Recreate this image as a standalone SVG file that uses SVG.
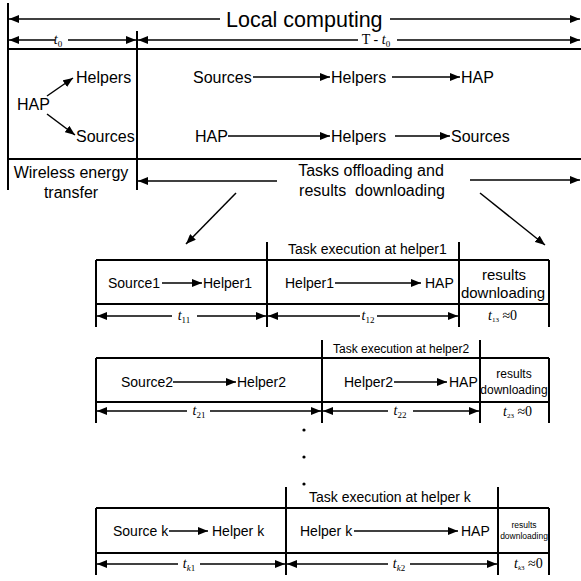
<svg xmlns="http://www.w3.org/2000/svg" width="581" height="581" viewBox="0 0 581 581">
<defs>
<marker id="ah" viewBox="0 0 10 8" refX="10" refY="4" markerWidth="10" markerHeight="8" markerUnits="userSpaceOnUse" orient="auto"><path d="M0,0 L10,4 L0,8 z" fill="#000"/></marker>
<style>
.ln{stroke:#000;stroke-width:2;fill:none}
.ar{stroke:#000;stroke-width:1.5;fill:none;marker-end:url(#ah)}
.t{font-family:"Liberation Sans",Arial,sans-serif;fill:#000}
.m{font-family:"Liberation Serif","Times New Roman",serif;fill:#000;font-size:14px}
.i{font-style:italic}
.c{text-anchor:middle}
</style>
</defs>
<rect width="581" height="581" fill="#fff"/>
<g id="frame">
<line class="ln" x1="8" y1="3" x2="8" y2="190"/>
<line class="ln" x1="137" y1="31" x2="137" y2="190"/>
<line class="ln" x1="8" y1="49" x2="581" y2="49"/>
<line class="ln" x1="8" y1="159" x2="581" y2="159"/>
</g>
<g id="connectors">
<line class="ar" x1="220" y1="19" x2="9" y2="19"/>
<line class="ar" x1="390" y1="19" x2="580" y2="19"/>
<line class="ar" x1="55" y1="40" x2="9" y2="40"/>
<line class="ar" x1="68" y1="40" x2="136" y2="40"/>
<line class="ar" x1="358" y1="40" x2="138" y2="40"/>
<line class="ar" x1="397" y1="40" x2="580" y2="40"/>
<line class="ar" x1="47" y1="96" x2="73" y2="78"/>
<line class="ar" x1="47" y1="114" x2="75" y2="135"/>
<line class="ar" x1="253" y1="77" x2="330" y2="77"/>
<line class="ar" x1="392" y1="77" x2="460" y2="77"/>
<line class="ar" x1="228" y1="136" x2="330" y2="136"/>
<line class="ar" x1="395" y1="136" x2="450" y2="136"/>
<line class="ar" x1="277" y1="181" x2="138" y2="181"/>
<line class="ar" x1="470" y1="180" x2="580" y2="180"/>
<line class="ar" x1="236" y1="193" x2="186" y2="244"/>
<line class="ar" x1="480" y1="193" x2="545" y2="245"/>
<line class="ar" x1="162" y1="283" x2="202" y2="283"/>
<line class="ar" x1="335" y1="283" x2="421" y2="283"/>
<line class="ar" x1="172" y1="316" x2="97" y2="316"/>
<line class="ar" x1="197" y1="316" x2="266" y2="316"/>
<line class="ar" x1="360" y1="316" x2="268" y2="316"/>
<line class="ar" x1="377" y1="316" x2="458" y2="316"/>
<line class="ar" x1="173" y1="382" x2="236" y2="382"/>
<line class="ar" x1="394" y1="382" x2="447" y2="382"/>
<line class="ar" x1="187" y1="411" x2="97" y2="411"/>
<line class="ar" x1="210" y1="411" x2="321" y2="411"/>
<line class="ar" x1="388" y1="411" x2="323" y2="411"/>
<line class="ar" x1="413" y1="411" x2="479" y2="411"/>
<line class="ar" x1="169" y1="531" x2="208" y2="531"/>
<line class="ar" x1="354" y1="531" x2="458" y2="531"/>
<line class="ar" x1="178" y1="564" x2="97" y2="564"/>
<line class="ar" x1="200" y1="564" x2="285" y2="564"/>
<line class="ar" x1="388" y1="564" x2="287" y2="564"/>
<line class="ar" x1="410" y1="564" x2="497" y2="564"/>
</g>
<g id="top-labels">
<text class="t" x="226" y="27" font-size="21.5">Local computing</text>
<text class="m i c" x="58" y="44">t<tspan font-size="9" dy="3" font-style="normal">0</tspan></text>
<text class="m c" x="376" y="44">T - <tspan font-style="italic">t</tspan><tspan font-size="9" dy="3">0</tspan></text>
</g>
<g id="node-hap-left"><text class="t" x="17" y="110" font-size="16">HAP</text></g>
<g id="node-helpers-left"><text class="t" x="76" y="83" font-size="16">Helpers</text></g>
<g id="node-sources-left"><text class="t" x="76" y="142" font-size="16">Sources</text></g>
<g id="row1">
<text class="t" x="193" y="83" font-size="16">Sources</text>
<text class="t" x="331" y="83" font-size="16">Helpers</text>
<text class="t" x="461" y="83" font-size="16">HAP</text>
</g>
<g id="row2">
<text class="t" x="195" y="142" font-size="16">HAP</text>
<text class="t" x="331" y="142" font-size="16">Helpers</text>
<text class="t" x="451" y="142" font-size="16">Sources</text>
</g>
<g id="phase-labels">
<text class="t c" x="71" y="178" font-size="16">Wireless energy</text>
<text class="t c" x="71" y="198" font-size="16">transfer</text>
<text class="t c" x="371" y="176" font-size="16">Tasks offloading and</text>
<text class="t c" x="372" y="196" font-size="16" xml:space="preserve">results  downloading</text>
</g>
<g id="box1">
<path class="ln" d="M96,260 H549 M96,304 H549 M96,260 V327 M267,242 V327 M459,242 V327 M549,260 V327"/>
<text class="t" x="288" y="254" font-size="14">Task execution at helper1</text>
<text class="t" x="108" y="288" font-size="14">Source1</text>
<text class="t" x="203" y="288" font-size="14">Helper1</text>
<text class="t" x="285" y="288" font-size="14">Helper1</text>
<text class="t" x="425" y="288" font-size="14">HAP</text>
<text class="t c" x="504" y="280" font-size="15">results</text>
<text class="t c" x="503" y="298" font-size="15">downloading</text>
<text class="m i c" x="184" y="320">t<tspan font-size="9" dy="3" font-style="normal">11</tspan></text>
<text class="m i c" x="368" y="320">t<tspan font-size="9" dy="3" font-style="normal">12</tspan></text>
<text class="m" x="488" y="320" font-size="12"><tspan font-style="italic">t</tspan><tspan font-size="7" dy="2">13</tspan><tspan dy="-2"> ≈0</tspan></text>
</g>
<g id="dots">
<circle cx="304" cy="430" r="1.6"/>
<circle cx="304" cy="457" r="1.6"/>
<circle cx="304" cy="484" r="1.6"/>
</g>
<g id="box2">
<path class="ln" d="M96,358 H549 M96,402 H549 M96,358 V423 M322,340 V423 M480,340 V423 M549,358 V423"/>
<text class="t" x="333" y="353" font-size="12">Task execution at helper2</text>
<text class="t" x="121" y="387" font-size="14">Source2</text>
<text class="t" x="237" y="387" font-size="14">Helper2</text>
<text class="t" x="344" y="387" font-size="14">Helper2</text>
<text class="t" x="449" y="387" font-size="14">HAP</text>
<text class="t c" x="514" y="378" font-size="12">results</text>
<text class="t c" x="514" y="394" font-size="12">downloading</text>
<text class="m i c" x="199" y="415">t<tspan font-size="9" dy="3" font-style="normal">21</tspan></text>
<text class="m i c" x="400" y="415">t<tspan font-size="9" dy="3" font-style="normal">22</tspan></text>
<text class="m" x="503" y="416" font-size="12"><tspan font-style="italic">t</tspan><tspan font-size="7" dy="2">23</tspan><tspan dy="-2"> ≈0</tspan></text>
</g>
<g id="boxk">
<path class="ln" d="M96,508 H549 M96,553 H549 M96,508 V575 M286,487 V575 M498,487 V575 M549,508 V575"/>
<text class="t" x="309" y="502" font-size="14">Task execution at helper k</text>
<text class="t" x="113" y="536" font-size="14">Source k</text>
<text class="t" x="212" y="536" font-size="14">Helper k</text>
<text class="t" x="300" y="536" font-size="14">Helper k</text>
<text class="t" x="461" y="536" font-size="14">HAP</text>
<text class="t c" x="524" y="528" font-size="8.5">results</text>
<text class="t c" x="524" y="539" font-size="8.5">downloading</text>
<text class="m i c" x="189" y="568">t<tspan font-size="9" dy="3">k</tspan><tspan font-size="9" font-style="normal">1</tspan></text>
<text class="m i c" x="399" y="568">t<tspan font-size="9" dy="3">k</tspan><tspan font-size="9" font-style="normal">2</tspan></text>
<text class="m" x="514" y="568" font-size="12"><tspan font-style="italic">t</tspan><tspan font-size="7" dy="2" font-style="italic">k</tspan><tspan font-size="7">3</tspan><tspan dy="-2"> ≈0</tspan></text>
</g>
</svg>
